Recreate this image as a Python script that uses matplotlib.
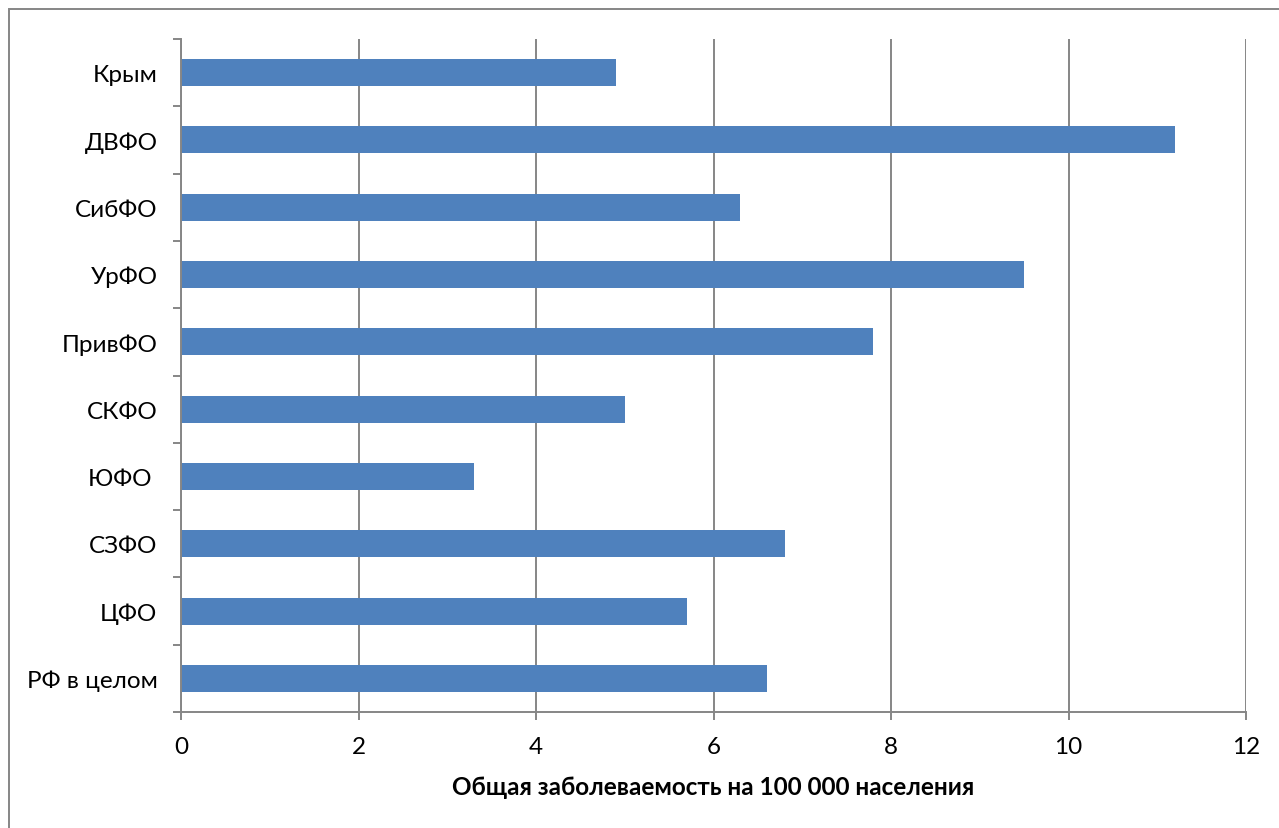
import matplotlib
matplotlib.use("Agg")
import matplotlib.pyplot as plt
import numpy as np
from matplotlib.patches import Rectangle

regions = ["РФ в целом", "ЦФО", "СЗФО", "ЮФО ", "СКФО", "ПривФО",
           "УрФО", "СибФО", "ДВФО", "Крым"]
incidence = [6.6, 5.7, 6.8, 3.3, 5.0, 7.8, 9.5, 6.3, 11.2, 4.9]
x_ticks = [0, 2, 4, 6, 8, 10, 12]
x_title = "Общая заболеваемость на 100 000 населения"

plt.rcParams["font.family"] = ["Lato", "DejaVu Sans"]

bar_color = "#4F81BD"
axis_gray = "#868686"
label_size = 17.5

fig = plt.figure(figsize=(12.79, 8.29), dpi=100)
ax = fig.add_axes([181 / 1279, 1 - 713 / 829, (1246 - 181) / 1279, (713 - 40) / 829])

# outer chart frame (left and top edges visible)
fig.patches.append(Rectangle((9 / 1279, -0.1), 1.2, 1 - 10 / 829 + 0.1,
                             transform=fig.transFigure, fill=False,
                             edgecolor=axis_gray, linewidth=1.4))

y = np.arange(len(regions))
ax.barh(y, incidence, height=0.4, color=bar_color, zorder=3)

ax.set_xlim(0, 12)
ax.set_ylim(-0.5, len(regions) - 0.5)
ax.set_xticks(x_ticks)
ax.set_xticklabels([str(t) for t in x_ticks])
ax.set_yticks(y)
ax.set_yticklabels(regions)
ax.set_yticks(np.arange(-0.5, len(regions), 1.0), minor=True)

ax.grid(axis="x", color=axis_gray, linewidth=1.4, zorder=0)
for s in ["top", "right"]:
    ax.spines[s].set_visible(False)
for s in ["left", "bottom"]:
    ax.spines[s].set_color(axis_gray)
    ax.spines[s].set_linewidth(1.4)
    ax.spines[s].set_zorder(4)

ax.tick_params(axis="y", which="major", length=0, pad=17, labelsize=label_size)
ax.tick_params(axis="y", which="minor", length=6, width=1.4, color=axis_gray)
ax.tick_params(axis="x", which="major", length=6, width=1.4, color=axis_gray,
               pad=11, labelsize=label_size)

ax.set_xlabel(x_title, fontsize=label_size, fontweight="bold", labelpad=13)

fig.savefig("out.png", dpi=100)
